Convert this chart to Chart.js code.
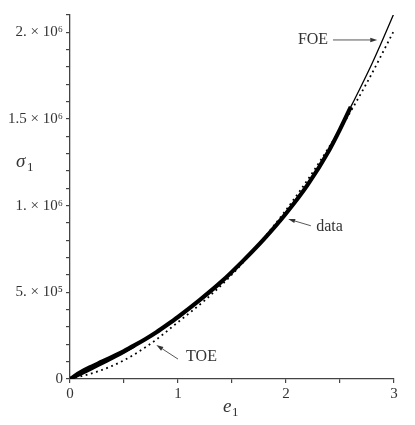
<!DOCTYPE html>
<html><head><meta charset="utf-8">
<script src="https://cdn.jsdelivr.net/npm/chart.js@4/dist/chart.umd.min.js"></script>
<style>html,body{margin:0;padding:0;background:#fff}canvas{display:block}</style>
</head><body>
<canvas id="c" width="415" height="425"></canvas>
<script>
// measured data (upper branch / lower branch of the thick data band)
const dataE      = [0, 0.1, 0.2, 0.3, 0.4, 0.5, 0.6, 0.7, 0.8, 0.9, 1.0, 1.2, 1.4, 1.6, 1.8, 2.0, 2.2, 2.4, 2.5, 2.6];
const dataS      = [0, 40000, 72000, 101000, 131000, 161000, 195000, 231000, 270000, 313000, 358000, 455000, 560000, 680000, 810000, 955000, 1120000, 1320000, 1440000, 1570000];
const dataLowE   = [0, 0.1, 0.2, 0.3, 0.4, 0.5, 0.6];
const dataLowS   = [0, 28000, 58000, 90000, 122000, 155000, 192000];
// fourth-order elastic (FOE) curve
const foeE = [0, 0.2, 0.4, 0.6, 0.8, 1.0, 1.2, 1.4, 1.6, 1.8, 2.0, 2.2, 2.4, 2.6, 2.7, 2.8, 2.9, 3.0];
const foeS = [0, 72000, 131000, 195000, 270000, 358000, 455000, 560000, 680000, 810000, 955000, 1120000, 1320000, 1570000, 1695000, 1825000, 1965000, 2110000];
// third-order elastic (TOE) curve
const toeE = [0, 0.25, 0.5, 0.75, 1.0, 1.25, 1.5, 1.75, 2.0, 2.25, 2.5, 2.75, 3.0];
const toeS = [0, 42000, 108000, 205000, 328000, 455000, 603000, 780000, 975000, 1195000, 1440000, 1710000, 2010000];
// axis ticks
const xTickValues = [0, 1, 2, 3];
const xTickLabels = ['0', '1', '2', '3'];
const yTickValues = [0, 500000, 1000000, 1500000, 2000000];
const yTickLabels = ['0', '5. \u00d7 10\u2075', '1. \u00d7 10\u2076', '1.5 \u00d7 10\u2076', '2. \u00d7 10\u2076'];

const pts = (xs, ys) => xs.map((x, i) => ({x: x, y: ys[i]}));
const SERIF = '"Liberation Serif", "DejaVu Serif", serif';
const TXT = '#333';

// annotations in data coordinates
const notes = [
  {text: 'FOE',  tx: 2.25,  ty: 1956000, align: 'center', ax0: 2.435, ay0: 1956000, ax1: 2.845, ay1: 1956000},
  {text: 'data', tx: 2.28,  ty: 877000,  align: 'left',   ax0: 2.23,  ay0: 884000,  ax1: 2.02,  ay1: 923000},
  {text: 'TOE',  tx: 1.075, ty: 127000,  align: 'left',   ax0: 1.0,   ay0: 115000,  ax1: 0.80,  ay1: 196000}
];

const overlay = {
  id: 'overlay',
  afterDraw(chart) {
    const ctx = chart.ctx, xs = chart.scales.x, ys = chart.scales.y;
    ctx.save();
    ctx.fillStyle = TXT; ctx.strokeStyle = '#444'; ctx.lineWidth = 0.9;
    ctx.font = '16px ' + SERIF; ctx.textBaseline = 'middle';
    notes.forEach(n => {
      ctx.textAlign = n.align;
      ctx.fillText(n.text, xs.getPixelForValue(n.tx), ys.getPixelForValue(n.ty));
      const x0 = xs.getPixelForValue(n.ax0), y0 = ys.getPixelForValue(n.ay0);
      const x1 = xs.getPixelForValue(n.ax1), y1 = ys.getPixelForValue(n.ay1);
      const ang = Math.atan2(y1 - y0, x1 - x0);
      const L = 7, W = 2.2;
      const bx = x1 - L * Math.cos(ang), by = y1 - L * Math.sin(ang);
      ctx.beginPath(); ctx.moveTo(x0, y0); ctx.lineTo(bx, by); ctx.stroke();
      ctx.beginPath();
      ctx.moveTo(x1, y1);
      ctx.lineTo(bx + W * Math.sin(ang), by - W * Math.cos(ang));
      ctx.lineTo(bx - W * Math.sin(ang), by + W * Math.cos(ang));
      ctx.closePath(); ctx.fill();
    });
    // axis titles
    ctx.textAlign = 'left'; ctx.textBaseline = 'alphabetic';
    const sy = ys.getPixelForValue(1250000);
    ctx.font = 'italic 19px ' + SERIF; ctx.fillText('\u03c3', 16, sy + 5);
    ctx.font = '13px ' + SERIF; ctx.fillText('1', 27, sy + 9);
    const ex = (xs.left + xs.right) / 2 - 5;
    ctx.font = 'italic 19px ' + SERIF; ctx.fillText('e', ex - 4, 412);
    ctx.font = '13px ' + SERIF; ctx.fillText('1', ex + 5, 416);
    ctx.restore();
  }
};

new Chart(document.getElementById('c'), {
  type: 'scatter',
  data: {
    datasets: [
      {label: 'FOE', data: pts(foeE, foeS), showLine: true, borderColor: '#000', borderWidth: 1.3, pointRadius: 0, cubicInterpolationMode: 'monotone'},
      {label: 'data', data: pts(dataE, dataS), showLine: true, borderColor: '#000', borderWidth: 4.2, pointRadius: 0, cubicInterpolationMode: 'monotone'},
      {label: 'data (lower branch)', data: pts(dataLowE, dataLowS), showLine: true, borderColor: '#000', borderWidth: 3, pointRadius: 0, cubicInterpolationMode: 'monotone'},
      {label: 'TOE', data: pts(toeE, toeS), showLine: true, borderColor: '#000', borderWidth: 1.8, borderDash: [1.8, 3.6], pointRadius: 0, cubicInterpolationMode: 'monotone'}
    ]
  },
  options: {
    responsive: false, animation: false, devicePixelRatio: 1,
    layout: {padding: {top: 15, right: 21, left: 0, bottom: 0}},
    plugins: {legend: {display: false}, tooltip: {enabled: false}},
    scales: {
      x: {
        type: 'linear', min: 0, max: 3,
        afterFit(s) { s.height = 46; },
        border: {display: true, color: '#444', width: 1.3},
        grid: {display: true, drawOnChartArea: false, drawTicks: true, tickLength: 4, color: '#444', lineWidth: 1.2},
        ticks: {
          stepSize: 0.5, autoSkip: false, maxRotation: 0, padding: 2, color: TXT,
          font: {family: SERIF, size: 15},
          callback: v => { const i = xTickValues.findIndex(t => Math.abs(t - v) < 1e-6); return i >= 0 ? xTickLabels[i] : ''; }
        }
      },
      y: {
        type: 'linear', min: 0, max: 2100000,
        afterFit(s) { s.width = 70; },
        border: {display: true, color: '#444', width: 1.3},
        grid: {display: true, drawOnChartArea: false, drawTicks: true, tickLength: 4, color: '#444', lineWidth: 1.2},
        ticks: {
          stepSize: 100000, autoSkip: false, padding: 3, color: TXT,
          font: {family: SERIF, size: 15},
          callback: v => { const i = yTickValues.findIndex(t => Math.abs(t - v) < 1); return i >= 0 ? yTickLabels[i] : ''; }
        }
      }
    }
  },
  plugins: [overlay]
});
</script>
</body></html>
